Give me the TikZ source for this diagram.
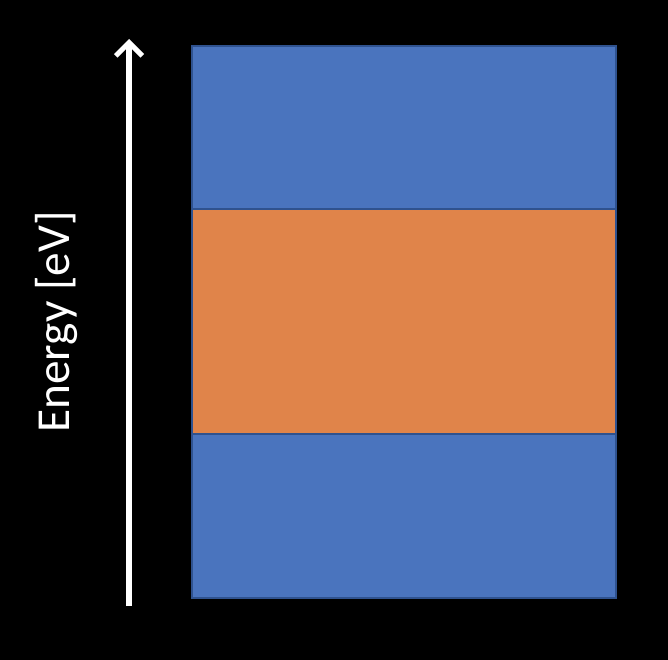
\documentclass[tikz,border=0pt]{standalone}
\usepackage{fontspec}
\setmainfont{Carlito}
\usetikzlibrary{arrows.meta,positioning}
\definecolor{Band}{HTML}{4A74BE}
\definecolor{Gap}{HTML}{E0844A}
\definecolor{Edge}{HTML}{2F528F}

\begin{document}
\begin{tikzpicture}[x=0.75pt,y=-0.75pt]
    \fill[black] (0,0) rectangle (668,660);
    \useasboundingbox (0,0) rectangle (668,660);
    \filldraw[fill=Band,draw=Edge,line width=1pt] (192,46) rectangle (616,209);
    \filldraw[fill=Gap,draw=Edge,line width=1pt] (192,209) rectangle (616,434);
    \filldraw[fill=Band,draw=Edge,line width=1pt] (192,434) rectangle (616,598);
    \coordinate (lo) at (129,606);
    \coordinate (hi) at (129,39);
    \draw[white,line width=3.8pt,-{Straight Barb[length=10pt,width=20pt]}] (lo) -- (hi);
    \node[rotate=90,text=white,font=\fontsize{35.5}{42}\selectfont] (e) at (56,322) {Energy [eV]};
  \end{tikzpicture}
\end{document}
